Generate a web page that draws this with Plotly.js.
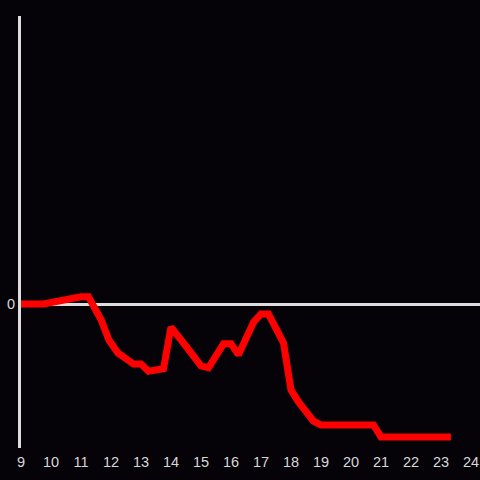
<!DOCTYPE html>
<html>
<head>
<meta charset="utf-8">
<script src="https://cdn.plot.ly/plotly-3.0.1.min.js"></script>
<style>html,body{margin:0;padding:0;background:#050308;}#chart{width:480px;height:480px;}</style>
</head>
<body>
<div id="chart"></div>
<script>
const hours = [9.0, 9.75, 11.0, 11.25, 11.67, 11.93, 12.23, 12.75, 13.0, 13.25, 13.75, 14.0, 14.5, 15.0, 15.25, 15.75, 16.0, 16.25, 16.75, 17.0, 17.25, 17.75, 18.0, 18.25, 18.75, 19.0, 20.75, 21.0, 23.33];
const values = [0, 0, 0.15, 0.15, -0.33, -0.75, -1.02, -1.25, -1.25, -1.4, -1.35, -0.48, -0.88, -1.29, -1.33, -0.83, -0.83, -1.06, -0.38, -0.21, -0.21, -0.81, -1.79, -2.04, -2.44, -2.52, -2.52, -2.77, -2.77];
const xTicks = [9,10,11,12,13,14,15,16,17,18,19,20,21,22,23,24];
const yTicks = [0];

Plotly.newPlot('chart', [{
  x: hours, y: values, type: 'scatter', mode: 'lines',
  line: {color: '#ff0000', width: 7},
  hoverinfo: 'skip'
}], {
  width: 480, height: 480,
  margin: {l: 21, r: 0, t: 16, b: 32},
  paper_bgcolor: '#050308', plot_bgcolor: '#050308',
  showlegend: false,
  font: {family: 'Liberation Sans, Arial, sans-serif', size: 14.5, color: '#d8d8d8'},
  xaxis: {
    range: [9, 24.3], tickvals: xTicks, ticktext: xTicks.map(String),
    showgrid: false, zeroline: false, showline: false, ticks: '',
    ticklabelstandoff: 3,
    fixedrange: true
  },
  yaxis: {
    range: [-3, 6], tickvals: yTicks, ticktext: ['0'],
    showgrid: false, zeroline: true, zerolinecolor: '#dddddd', zerolinewidth: 3,
    showline: true, linecolor: '#dddddd', linewidth: 3, ticks: '',
    fixedrange: true
  }
}, {displayModeBar: false, staticPlot: true});
</script>
</body>
</html>
